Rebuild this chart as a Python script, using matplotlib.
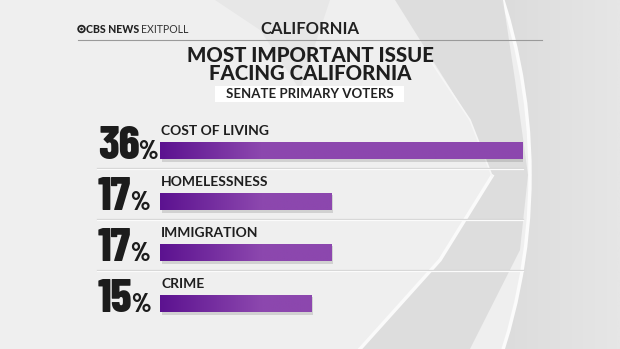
import numpy as np
import matplotlib
matplotlib.use("Agg")
import matplotlib.pyplot as plt
from matplotlib.patches import Circle, Rectangle, Polygon
from matplotlib.colors import LinearSegmentedColormap

# ---- data ----
categories = ["COST OF LIVING", "HOMELESSNESS", "IMMIGRATION", "CRIME"]
values = [36, 17, 17, 15]
header_left = "CBS NEWS"
header_left2 = "EXITPOLL"
state = "CALIFORNIA"
title_lines = ["MOST IMPORTANT ISSUE", "FACING CALIFORNIA"]
subtitle = "SENATE PRIMARY VOTERS"

SANS = ["Lato", "DejaVu Sans"]
COND = ["Barlow Condensed", "DejaVu Sans"]

W, H = 620, 349
fig = plt.figure(figsize=(W / 100, H / 100), dpi=100)

# ---- background in pixel coordinates ----
bg = fig.add_axes([0, 0, 1, 1])
bg.set_xlim(0, W)
bg.set_ylim(H, 0)
bg.axis("off")
grad = np.linspace(0, 1, 300)[None, :]
bgcmap = LinearSegmentedColormap.from_list("bg", ["#f1f1f1", "#e4e4e4", "#d4d4d4", "#e6e6e6"])
bg.imshow(grad, extent=(0, W, H, 0), aspect="auto", cmap=bgcmap, zorder=0)
big = Circle((-50, 175), 580, facecolor="#efefef", edgecolor="#fbfbfb", lw=2.5, zorder=1)
bg.add_patch(big)
sw = Polygon([(395, 0), (470, 120), (492, 176), (440, 260), (360, 349), (470, 349), (520, 250),
              (528, 175), (515, 80), (503, 0)], closed=True, facecolor="#d9d9d9", edgecolor="none",
             zorder=1.5, alpha=0.8)
bg.add_patch(sw)
sw2 = Polygon([(215, 0), (260, 30), (300, 90), (330, 0)], closed=True, facecolor="#e2e2e2",
              edgecolor="none", zorder=1.4, alpha=0.6)
bg.add_patch(sw2)
bg.plot([492, 440, 360], [176, 260, 349], color="#fafafa", lw=2.5, zorder=1.6)
bg.plot([492, 470, 430], [176, 120, 60], color="#f6f6f6", lw=1.2, zorder=1.6)

# header
bg.add_patch(Circle((81.5, 29), 3.3, facecolor="none", edgecolor="#222222", lw=1.3, zorder=3))
bg.add_patch(Circle((81.5, 29), 1.3, facecolor="#222222", edgecolor="none", zorder=3))
bg.text(86, 29.5, header_left, fontsize=7.6, fontweight="black", family=SANS,
        color="#222222", va="center", ha="left", zorder=3)
bg.text(141, 29.5, header_left2, fontsize=7.6, fontweight="normal", family=SANS,
        color="#333333", va="center", ha="left", zorder=3)
bg.text(310, 29, state, fontsize=12, fontweight="bold", family=SANS,
        color="#222222", va="center", ha="center", zorder=3)
bg.plot([78, 542], [40, 40], color="#9a9a9a", lw=0.8, zorder=3)
bg.text(310, 55, title_lines[0], fontsize=14.7, fontweight="black", family=SANS,
        color="#1e1e1e", va="center", ha="center", zorder=3)
bg.text(310, 73, title_lines[1], fontsize=14.7, fontweight="black", family=SANS,
        color="#1e1e1e", va="center", ha="center", zorder=3)
bg.add_patch(Rectangle((215, 86), 189, 15.5, facecolor="#ffffff", edgecolor="none", zorder=3))
bg.text(309.5, 94, subtitle, fontsize=9.5, fontweight="bold", family=SANS,
        color="#222222", va="center", ha="center", zorder=4)

# ---- bar axes ----
left_px, right_px = 160, 523
top_px, bot_px = 125, 329
ax = fig.add_axes([left_px / W, (H - bot_px) / H, (right_px - left_px) / W, (bot_px - top_px) / H])
ax.patch.set_alpha(0)
ax.axis("off")
ax.set_xlim(0, 36)
ax.set_ylim(len(categories) - 0.5, -0.5)
ypos = np.arange(len(categories))
bh = 0.345
ax.barh(ypos + 0.05, values, height=bh, left=0.15, color="#000000", alpha=0.12, zorder=1)
bars = ax.barh(ypos, values, height=bh, color="#8c47ae", zorder=2)
gcmap = LinearSegmentedColormap.from_list("bar", ["#5c1290", "#8c47ae"])
for b in bars:
    x0, y0, w, h = b.get_x(), b.get_y(), b.get_width(), b.get_height()
    xs = np.linspace(x0, x0 + w, 300)
    vals = np.clip(xs / 10.0, 0, 1)[None, :]
    im = ax.imshow(vals, extent=(x0, x0 + w, y0 + h, y0), aspect="auto", cmap=gcmap,
                   vmin=0, vmax=1, zorder=3)
    im.set_clip_path(b)
ax.set_xlim(0, 36)
ax.set_ylim(len(categories) - 0.5, -0.5)

fig.canvas.draw()
renderer = fig.canvas.get_renderer()
for i, (c, v) in enumerate(zip(categories, values)):
    bar_top = i - bh / 2
    bar_bot = i + bh / 2
    ax.text(0.1, bar_top - 7 / 51, c, fontsize=10, fontweight="bold", family=SANS,
            color="#1e1e1e", va="baseline", ha="left", zorder=4)
    num = ax.text(-62 / 363 * 36, bar_bot, str(v), fontsize=33.5, fontweight="heavy",
                  family=COND, color="#1c1c1c", va="baseline", ha="left", zorder=4)
    ext = num.get_window_extent(renderer)
    x_right = ax.transData.inverted().transform((ext.x1, 0))[0]
    ax.text(x_right - 0.15, bar_bot, "%", fontsize=18.5, fontweight="heavy",
            family=COND, color="#1c1c1c", va="baseline", ha="left", zorder=4)
    if i < len(categories) - 1:
        ax.plot([-6.25, 36], [i + 0.35, i + 0.35], color="#d4d4d4", lw=0.9, zorder=1, clip_on=False)
        ax.plot([-6.25, 36], [i + 0.37, i + 0.37], color="#fbfbfb", lw=0.9, zorder=1, clip_on=False)

fig.savefig("out.png", dpi=100)
